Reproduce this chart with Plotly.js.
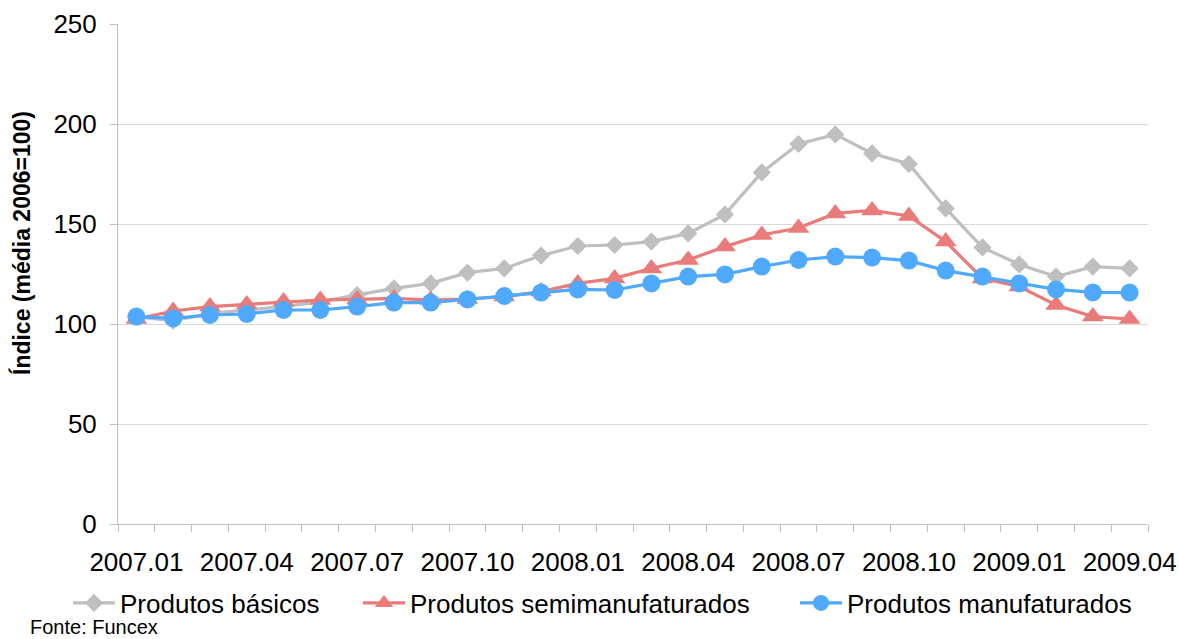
<!DOCTYPE html>
<html>
<head>
<meta charset="utf-8">
<script src="https://cdn.plot.ly/plotly-3.0.1.min.js"></script>
<style>html,body{margin:0;padding:0;background:#fff;}#chart{width:1179px;height:639px;}</style>
</head>
<body>
<div id="chart"></div>
<script>
const months = ["2007.01","2007.02","2007.03","2007.04","2007.05","2007.06","2007.07","2007.08","2007.09","2007.10","2007.11","2007.12",
  "2008.01","2008.02","2008.03","2008.04","2008.05","2008.06","2008.07","2008.08","2008.09","2008.10","2008.11","2008.12",
  "2009.01","2009.02","2009.03","2009.04"];
const basicos = [103.5,101.7,105.3,107,108.7,111.2,114.5,117.8,120.3,125.7,127.8,134.2,139,139.5,141.2,145.3,154.8,175.8,190,194.8,185.3,180,157.8,138.3,129.8,123.7,128.7,127.8];
const semimanufaturados = [102.5,106.5,108.7,109.8,111.2,112,112.3,112.8,112,112.5,113.7,116.2,120.3,122.8,127.8,132,138.7,144.5,148,155.3,156.8,154,141.2,122.8,118.7,109.5,103.7,102.5];
const manufaturados = [103.7,102.8,104.5,105,107,107,108.7,110.7,110.7,112.3,114,115.7,117.3,117,120.3,123.7,124.8,128.7,132,133.7,133.2,131.7,126.7,123.7,120.3,117.3,115.8,115.7];
const seriesNames = ["Produtos básicos","Produtos semimanufaturados","Produtos manufaturados"];
const tickLabels = months.map((m,i)=> i%3===0 ? m : "");
const yTitle = "Índice (média 2006=100)";
const source = "Fonte: Funcex";

const FONT = "Liberation Sans, Arial, sans-serif";
const traces = [
  {x: months, y: basicos, name: seriesNames[0], type:"scatter", mode:"lines+markers", legend:"legend",
   line:{color:"#bfbfbf", width:3.2}, marker:{symbol:"diamond", size:14, color:"#bfbfbf"}},
  {x: months, y: semimanufaturados, name: seriesNames[1], type:"scatter", mode:"lines+markers", legend:"legend2",
   line:{color:"#e97b7b", width:3.2}, marker:{symbol:"triangle-up", size:19, color:"#e97b7b"}},
  {x: months, y: manufaturados, name: seriesNames[2], type:"scatter", mode:"lines+markers", legend:"legend3",
   line:{color:"#4fa9ff", width:3.2}, marker:{symbol:"circle", size:18, color:"#4fa9ff"}}
];
function leg(xpx){
  return {orientation:"h", x:(xpx-118)/1030, xanchor:"left", y:(524-603)/500, yanchor:"middle",
    itemwidth:42, font:{family:FONT, size:26, color:"#000"}, bgcolor:"rgba(0,0,0,0)"};
}
const layout = {
  width:1179, height:639,
  margin:{l:118, r:31, t:24, b:115},
  paper_bgcolor:"#ffffff", plot_bgcolor:"#ffffff",
  font:{family:FONT, size:26, color:"#000"},
  showlegend:true,
  xaxis:{type:"category", range:[-0.5,27.5], tickmode:"array", tickvals:months, ticktext:tickLabels,
    tickson:"boundaries", ticks:"outside", ticklen:7, tickcolor:"#bfbfbf", tickwidth:1, ticklabelstandoff:15,
    showgrid:false, showline:true, linecolor:"#bfbfbf", linewidth:1, zeroline:false,
    tickfont:{family:FONT, size:26, color:"#000"}, tickangle:0},
  yaxis:{range:[0,250], dtick:50, tick0:0, ticks:"outside", ticklen:7, tickcolor:"#bfbfbf", ticklabelstandoff:8,
    showgrid:true, gridcolor:"#d9d9d9", gridwidth:1, showline:true, linecolor:"#bfbfbf", linewidth:1,
    zeroline:false, tickfont:{family:FONT, size:26, color:"#000"}},
  legend:leg(68), legend2:leg(358), legend3:leg(795),
  annotations:[
    {text:yTitle, textangle:-90, xref:"paper", yref:"paper", x:-0.0932, y:0.562,
     xanchor:"center", yanchor:"middle", showarrow:false,
     font:{family:FONT, size:23, color:"#000", weight:"bold"}},
    {text:source, xref:"paper", yref:"paper", x:(28-118)/1030, y:(524-627)/500,
     xanchor:"left", yanchor:"middle", showarrow:false,
     font:{family:FONT, size:20, color:"#000"}}
  ]
};
Plotly.newPlot("chart", traces, layout, {displayModeBar:false, staticPlot:true});
</script>
</body>
</html>
